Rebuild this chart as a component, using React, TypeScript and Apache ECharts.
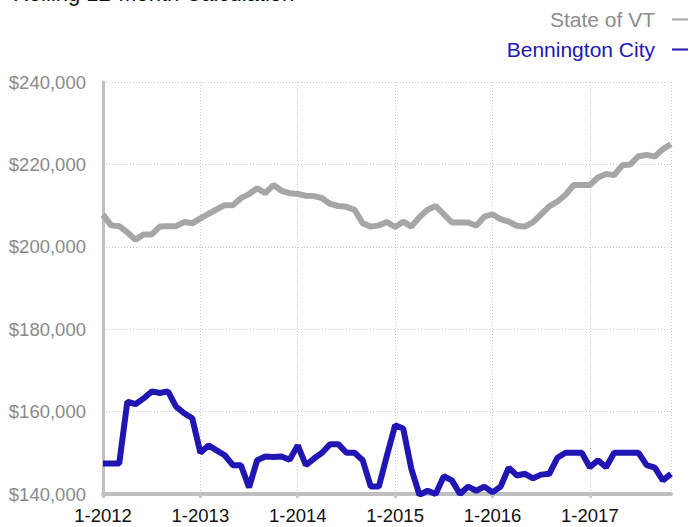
import React, { useEffect, useRef } from "react";
import * as echarts from "echarts";

const years = [2012, 2013, 2014, 2015, 2016, 2017];
const months = Array.from({ length: 71 }, (_, i) => `${(i % 12) + 1}-${years[Math.floor(i / 12)]}`);

const stateOfVT = [
  207800, 205200, 205000, 203500, 201700, 203000, 203000, 204900, 205000, 205000,
  206000, 205700, 206900, 208000, 209100, 210100, 210100, 211800, 212800, 214200,
  213000, 215000, 213600, 213000, 212800, 212400, 212300, 211800, 210400, 209900,
  209700, 209000, 205700, 204900, 205200, 206000, 204800, 206100, 204900, 207200,
  209000, 209900, 207900, 205900, 205900, 205900, 205100, 207300, 207900, 206700,
  206100, 205100, 204900, 206000, 207900, 209800, 211000, 212600, 215000, 215000,
  215000, 216800, 217700, 217400, 219800, 220000, 222000, 222300, 221900, 223700, 224900,
];

const benningtonCity = [
  147400, 147400, 147400, 162400, 161800, 163200, 164900, 164500, 164900, 161200,
  159600, 158400, 150000, 151800, 150600, 149400, 147000, 147000, 141600, 148200,
  149100, 149000, 149100, 148300, 151800, 147000, 148600, 150000, 152100, 152100,
  150000, 150000, 148200, 141800, 141800, 149400, 156700, 155900, 146100, 139800,
  140800, 140000, 144300, 143300, 140000, 141800, 140800, 141800, 140400, 141800,
  146400, 144500, 144900, 143800, 144700, 144900, 148800, 150000, 150000, 150000,
  146500, 148200, 146500, 150000, 150000, 150000, 150000, 147000, 146400, 143300, 144900,
];

const FONT = "Liberation Sans, Arial, Helvetica, sans-serif";
const GRAY_LINE = "#a6a6a6";
const BLUE = "#2116b3";

export default function App() {
  const ref = useRef<HTMLDivElement>(null);
  useEffect(() => {
    if (!ref.current) return;
    const chart = echarts.init(ref.current, undefined, { renderer: "svg" });
    const last = months.length - 1;
    chart.setOption({
      animation: false,
      backgroundColor: "#ffffff",
      title: {
        text: "Rolling 12-Month Calculation",
        left: 13,
        top: -18,
        padding: 0,
        textStyle: { fontFamily: FONT, fontSize: 22, fontWeight: "normal", color: "#111" },
      },
      legend: {
        orient: "vertical",
        right: 1,
        top: 9,
        padding: 0,
        align: "right",
        icon: "rect",
        itemWidth: 16,
        itemHeight: 2,
        itemGap: 9,
        textStyle: { fontFamily: FONT, fontSize: 21, padding: [0, 12, 0, 0] },
        data: [
          { name: "State of VT", textStyle: { color: "#8c8c8c" } },
          { name: "Bennington City", textStyle: { color: BLUE } },
        ],
      },
      grid: { left: 103, right: 18, top: 82, bottom: 33 },
      xAxis: {
        type: "category",
        data: months,
        boundaryGap: false,
        axisLine: { lineStyle: { color: "#c0c0c0", width: 4 } },
        axisTick: {
          show: true,
          length: 4,
          interval: (i: number) => i % 12 === 0,
          lineStyle: { color: "#c8c8c8", width: 3 },
        },
        axisLabel: {
          interval: (i: number) => i % 12 === 0,
          fontFamily: FONT,
          fontSize: 18.5,
          color: "#111",
          margin: 12,
        },
        splitLine: {
          show: true,
          interval: (i: number) => i % 12 === 0 || i === last,
          lineStyle: { color: "#c8c8c8", type: [1, 2], width: 1 },
        },
      },
      yAxis: {
        type: "value",
        min: 140000,
        max: 240000,
        interval: 20000,
        axisLine: { show: true, lineStyle: { color: "#c0c0c0", width: 3 } },
        axisTick: { show: false },
        axisLabel: {
          fontFamily: FONT,
          fontSize: 18.5,
          color: "#8a8a8a",
          margin: 17,
          formatter: (v: number) => "$" + v.toLocaleString("en-US"),
        },
        splitLine: { lineStyle: { color: "#c8c8c8", type: [1, 2], width: 1 } },
      },
      series: [
        {
          name: "State of VT",
          type: "line",
          data: stateOfVT,
          symbol: "none",
          color: GRAY_LINE,
          lineStyle: { color: GRAY_LINE, width: 6 },
        },
        {
          name: "Bennington City",
          type: "line",
          data: benningtonCity,
          symbol: "none",
          color: BLUE,
          lineStyle: { color: BLUE, width: 6 },
        },
      ],
    });
    return () => chart.dispose();
  }, []);
  return <div ref={ref} style={{ width: 689, height: 527, position: "fixed", left: 0, top: 0 }} />;
}
